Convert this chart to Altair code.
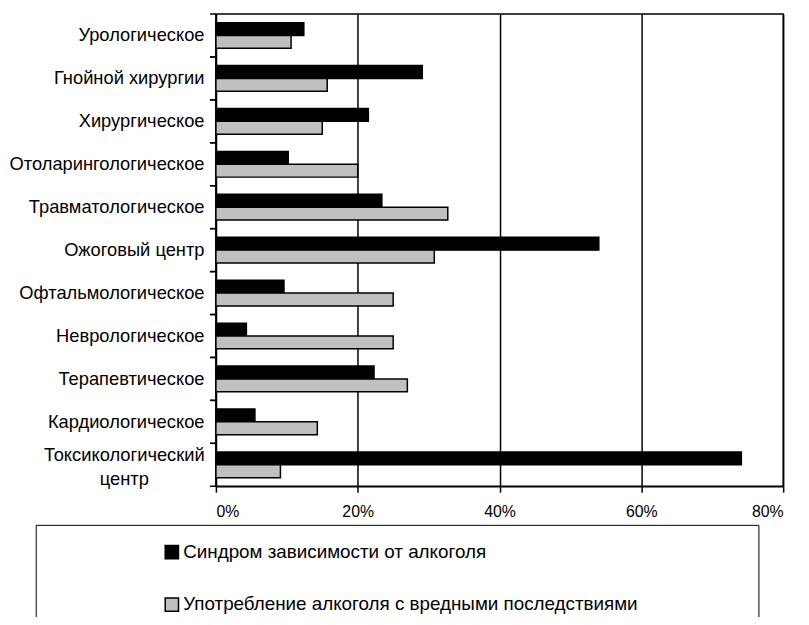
import altair as alt
import pandas as pd

categories = [
    "Урологическое",
    "Гнойной хирургии",
    "Хирургическое",
    "Отоларингологическое",
    "Травматологическое",
    "Ожоговый центр",
    "Офтальмологическое",
    "Неврологическое",
    "Терапевтическое",
    "Кардиологическое",
    "Токсикологический центр",
]
series = [
    "Синдром зависимости от алкоголя",
    "Употребление алкоголя с вредными последствиями",
]
dependence = [12.4, 29.1, 21.5, 10.2, 23.4, 54.0, 9.6, 4.3, 22.3, 5.5, 74.1]
harmful = [10.6, 15.7, 15.0, 20.0, 32.7, 30.8, 25.0, 25.0, 27.0, 14.3, 9.1]
x_ticks = [0, 20, 40, 60, 80]
colors = ["#000000", "#c0c0c0"]

rows = []
for c, a, b in zip(categories, dependence, harmful):
    rows.append({"cat": c, "series": series[0], "value": a})
    rows.append({"cat": c, "series": series[1], "value": b})
df = pd.DataFrame(rows)
cat_df = pd.DataFrame({"cat": categories})

FONT = "Liberation Sans"
NB = "\u00a0"
WRAP_TEST = "datum.value == 'Токсикологический центр'"

ysc = alt.Scale(domain=categories, paddingInner=0, paddingOuter=0)
color_scale = alt.Scale(domain=series, range=colors)

bars = alt.Chart(df).mark_bar(stroke="black", strokeWidth=1.5).encode(
    x=alt.X(
        "value:Q",
        scale=alt.Scale(domain=[0, 80], nice=False),
        axis=alt.Axis(
            values=x_ticks,
            title=None,
            labelExpr="datum.value + '%'",
            grid=True,
            gridColor="black",
            gridWidth=1.5,
            gridOpacity=1,
            domainColor="black",
            domainWidth=1.5,
            tickColor="black",
            tickWidth=1.5,
            tickSize=6,
            labelPadding=12,
            labelFontSize=16,
            labelColor="black",
            labelFont=FONT,
        ),
    ),
    y=alt.Y(
        "cat:N",
        sort=categories,
        scale=ysc,
        axis=alt.Axis(
            title=None,
            ticks=False,
            tickSize=0,
            labelPadding={"condition": {"test": WRAP_TEST, "value": 93}, "value": 12},
            labelAlign={"condition": {"test": WRAP_TEST, "value": "center"}, "value": "right"},
            labelOffset={"condition": {"test": WRAP_TEST, "value": -10}, "value": 0},
            labelFontSize=18.5,
            labelColor="black",
            labelFont=FONT,
            labelLimit=400,
            labelLineHeight=24,
            labelExpr=(
                WRAP_TEST + " ? ['Токсикологический', 'центр'] : datum.label"
            ),
            domainColor="black",
            domainWidth=1.5,
            grid=False,
        ),
    ),
    yOffset=alt.YOffset(
        "series:N",
        sort=series,
        scale=alt.Scale(domain=series, paddingInner=0, paddingOuter=0.67),
    ),
    color=alt.Color(
        "series:N",
        scale=color_scale,
        legend=alt.Legend(
            title=NB,
            titleOrient="right",
            titlePadding=104,
            titleFontSize=10,
            orient="none",
            legendX=-182,
            legendY=516,
            padding=18,
            strokeColor="black",
            fillColor="white",
            symbolType="square",
            symbolOffset=110,
            symbolSize=180,
            symbolOpacity=1,
            symbolStrokeColor="black",
            symbolStrokeWidth=1.5,
            labelFontSize=19,
            labelFont=FONT,
            labelColor="black",
            labelOffset=2,
            rowPadding=32,
            labelLimit=700,
        ),
    ),
)

ticks_top = alt.Chart(cat_df).mark_rule(color="black", strokeWidth=1.5).encode(
    y=alt.Y("cat:N", sort=categories, scale=ysc, bandPosition=0),
    x=alt.value(-6),
    x2=alt.value(0),
)
ticks_bottom = alt.Chart(cat_df).mark_rule(color="black", strokeWidth=1.5).encode(
    y=alt.Y("cat:N", sort=categories, scale=ysc, bandPosition=1),
    x=alt.value(-6),
    x2=alt.value(0),
)

chart = (
    alt.layer(bars, ticks_top, ticks_bottom)
    .properties(
        width=573,
        height=477,
        autosize=alt.AutoSizeParams(type="none"),
        padding={"left": 210, "top": 3, "right": 18, "bottom": 129},
    )
    .configure(font=FONT)
    .configure_view(stroke="black", strokeWidth=1.5)
)

chart.save("out.html", embed_options={"renderer": "svg", "actions": False})
